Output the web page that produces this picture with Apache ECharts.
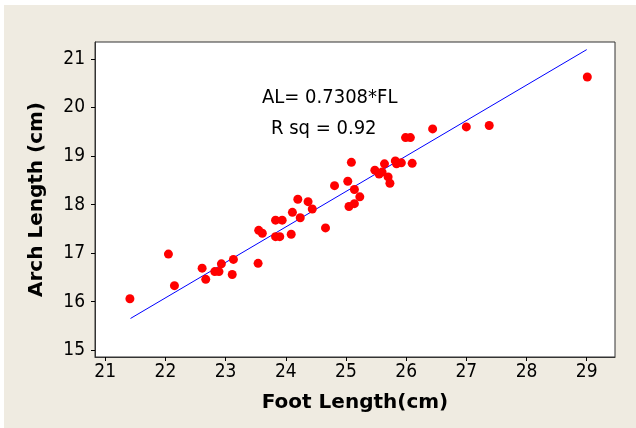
<!DOCTYPE html>
<html>
<head>
<meta charset="utf-8">
<script src="https://cdn.jsdelivr.net/npm/echarts@6/dist/echarts.min.js"></script>
<style>
  html, body { margin: 0; padding: 0; background: #ffffff; }
  #chart { width: 636px; height: 428px; }
</style>
</head>
<body>
<div id="chart"></div>
<script>
// foot length (cm) vs arch length (cm)
var footLength = [21.41, 22.05, 22.15, 22.61, 22.67, 22.82, 22.89, 22.93, 23.11, 23.13,
    23.54, 23.55, 23.61, 23.83, 23.94, 23.83, 23.90, 24.09, 24.11, 24.20,
    24.24, 24.37, 24.44, 24.66, 24.81, 25.03, 25.09, 25.14, 25.23, 25.14,
    25.05, 25.48, 25.55, 25.60, 25.64, 25.70, 25.73, 25.82, 25.84, 25.92,
    26.10, 25.99, 26.07, 26.44, 27.00, 27.38, 29.01];
var archLength = [16.06, 16.98, 16.33, 16.69, 16.46, 16.62, 16.62, 16.78, 16.56, 16.87,
    16.79, 17.47, 17.41, 17.68, 17.68, 17.34, 17.34, 17.39, 17.84, 18.11,
    17.73, 18.06, 17.91, 17.52, 18.39, 18.48, 18.87, 18.31, 18.16, 18.02,
    17.96, 18.71, 18.63, 18.67, 18.84, 18.57, 18.44, 18.90, 18.84, 18.86,
    18.85, 19.38, 19.38, 19.56, 19.60, 19.63, 20.63];
var xTicks = [21, 22, 23, 24, 25, 26, 27, 28, 29];
var yTicks = [15, 16, 17, 18, 19, 20, 21];
var slope = 0.7308;
var fitX = [21.42, 29.0];

var points = footLength.map(function (x, i) { return [x, archLength[i]]; });
var fitLine = fitX.map(function (x) { return [x, +(slope * x).toFixed(3)]; });

var tickFont = "'DejaVu Sans Condensed', 'Liberation Sans Narrow', sans-serif";
var titleFont = "'DejaVu Sans', 'Liberation Sans', sans-serif";

var myChart = echarts.init(document.getElementById('chart'));
myChart.setOption({
    backgroundColor: '#efebe1',
    animation: false,
    grid: {
        left: 95,
        top: 42,
        right: 21,
        bottom: 71,
        show: true,
        backgroundColor: '#ffffff',
        borderColor: '#333333',
        borderWidth: 1
    },
    xAxis: {
        type: 'value',
        min: 20.83,
        max: 29.47,
        name: 'Foot Length(cm)',
        nameLocation: 'middle',
        nameGap: 36,
        nameTextStyle: {
            fontFamily: titleFont,
            fontWeight: 'bold',
            fontSize: 20,
            color: '#000'
        },
        axisLine: { show: true, lineStyle: { color: '#333' } },
        axisTick: {
            show: true,
            length: 4,
            customValues: xTicks,
            lineStyle: { color: '#000' }
        },
        axisLabel: {
            customValues: xTicks,
            margin: 6,
            fontFamily: tickFont,
            fontSize: 19,
            color: '#000'
        },
        splitLine: { show: false }
    },
    yAxis: {
        type: 'value',
        min: 14.86,
        max: 21.35,
        name: 'Arch Length (cm)',
        nameLocation: 'middle',
        nameGap: 48,
        nameTextStyle: {
            fontFamily: titleFont,
            fontWeight: 'bold',
            fontSize: 20,
            color: '#000'
        },
        axisLine: { show: true, lineStyle: { color: '#333' } },
        axisTick: {
            show: true,
            length: 4,
            customValues: yTicks,
            lineStyle: { color: '#000' }
        },
        axisLabel: {
            customValues: yTicks,
            margin: 10,
            fontFamily: tickFont,
            fontSize: 19,
            color: '#000'
        },
        splitLine: { show: false }
    },
    graphic: [
        { type: 'rect', left: 0, top: 0, shape: { width: 636, height: 5 }, style: { fill: '#ffffff' }, silent: true },
        { type: 'rect', left: 0, top: 0, shape: { width: 4, height: 428 }, style: { fill: '#ffffff' }, silent: true },
        {
            type: 'text', left: 262, top: 88, z: 10,
            style: { text: 'AL= 0.7308*FL', fill: '#000', font: "20px 'DejaVu Sans Condensed', sans-serif" }
        },
        {
            type: 'text', left: 271, top: 119, z: 10,
            style: { text: 'R sq = 0.92', fill: '#000', font: "20px 'DejaVu Sans Condensed', sans-serif" }
        }
    ],
    series: [
        {
            name: 'fit',
            type: 'line',
            data: fitLine,
            symbol: 'none',
            clip: false,
            lineStyle: { color: '#0000ff', width: 1 },
            z: 2
        },
        {
            name: 'data',
            type: 'scatter',
            data: points,
            symbol: 'circle',
            symbolSize: 9,
            clip: false,
            itemStyle: { color: '#ff0000', opacity: 1 },
            z: 3
        }
    ]
});
</script>
</body>
</html>
